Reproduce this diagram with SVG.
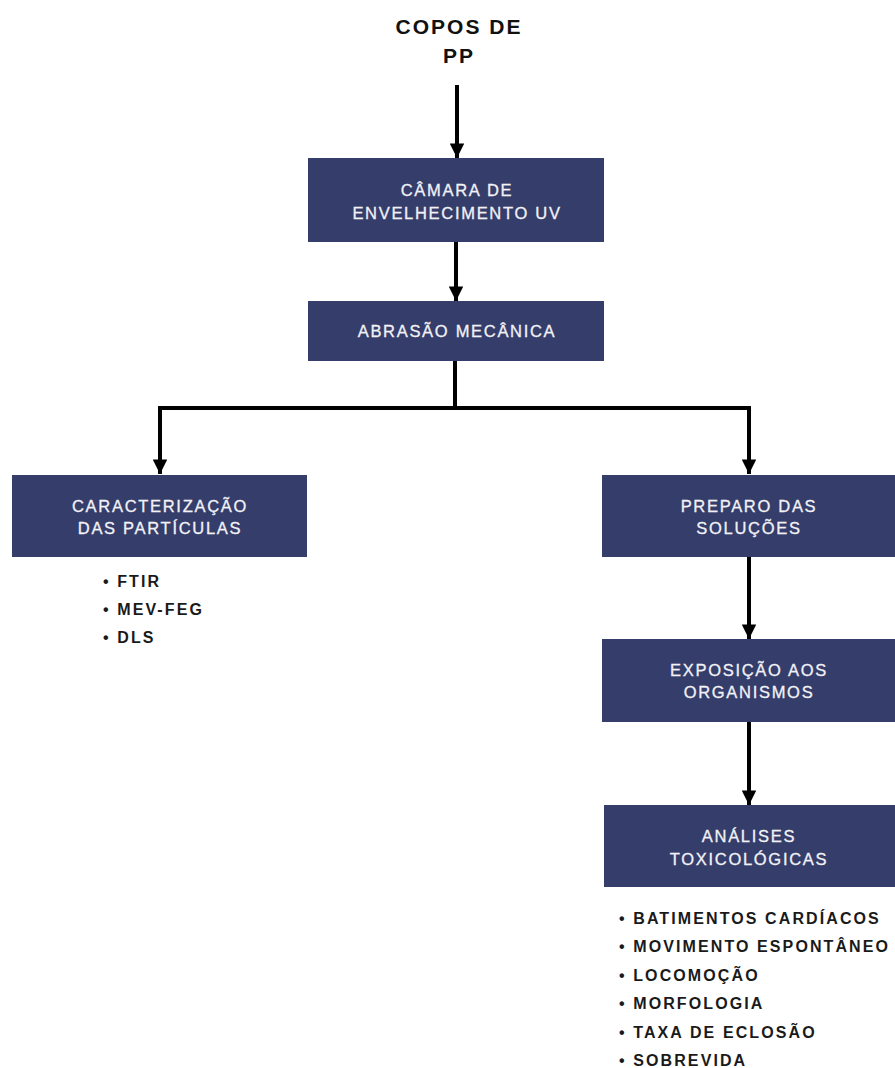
<svg xmlns="http://www.w3.org/2000/svg" width="895" height="1068" viewBox="0 0 895 1068">
  <defs>
    <marker id="arrow" viewBox="0 0 10 10" refX="10" refY="5" markerWidth="4.5" markerHeight="3.6" markerUnits="strokeWidth" orient="auto">
      <path d="M0,0 L10,5 L0,10 Z" fill="#000"/>
    </marker>
    <style>
      .box { fill: #353d6b; }
      .lbl { font-family: "Liberation Sans", Arial, sans-serif; font-size: 16.5px; fill: #f2f2f6; stroke: #f2f2f6; stroke-width: 0.3px; letter-spacing: 1.7px; text-anchor: middle; }
      .title { font-family: "Liberation Sans", Arial, sans-serif; font-size: 21px; font-weight: bold; fill: #111; letter-spacing: 2px; text-anchor: middle; }
      .item { font-family: "Liberation Sans", Arial, sans-serif; font-size: 16px; font-weight: bold; fill: #1a1a1a; letter-spacing: 2.1px; }
      .link { fill: none; stroke: #000; stroke-width: 4; marker-end: url(#arrow); }
    </style>
  </defs>
  <rect width="895" height="1068" fill="#fff"/>

  <g id="connectors">
    <path class="link" d="M457,85 V158"/>
    <path class="link" d="M456,242 V301"/>
    <path class="link" d="M455,361 V408 H160 V474"/>
    <path class="link" d="M455,408 H749 V474"/>
    <path class="link" d="M749,557 V639"/>
    <path class="link" d="M749,722 V805"/>
  </g>

  <g id="copos">
    <text class="title" x="459" y="34">COPOS DE</text>
    <text class="title" x="459" y="63">PP</text>
  </g>

  <g id="camara">
    <rect class="box" x="308" y="158" width="296" height="84"/>
    <text class="lbl" x="457" y="196">CÂMARA DE</text>
    <text class="lbl" x="457" y="219">ENVELHECIMENTO UV</text>
  </g>

  <g id="abrasao">
    <rect class="box" x="308" y="301" width="296" height="60"/>
    <text class="lbl" x="457" y="337">ABRASÃO MECÂNICA</text>
  </g>

  <g id="caracterizacao">
    <rect class="box" x="12" y="475" width="295" height="82"/>
    <text class="lbl" x="160" y="512">CARACTERIZAÇÃO</text>
    <text class="lbl" x="160" y="534">DAS PARTÍCULAS</text>
    <text class="item" x="103" y="587">•  FTIR</text>
    <text class="item" x="103" y="615">•  MEV-FEG</text>
    <text class="item" x="103" y="643">•  DLS</text>
  </g>

  <g id="preparo">
    <rect class="box" x="602" y="475" width="293" height="82"/>
    <text class="lbl" x="749" y="512">PREPARO DAS</text>
    <text class="lbl" x="749" y="534">SOLUÇÕES</text>
  </g>

  <g id="exposicao">
    <rect class="box" x="602" y="639" width="293" height="83"/>
    <text class="lbl" x="749" y="676">EXPOSIÇÃO AOS</text>
    <text class="lbl" x="749" y="698">ORGANISMOS</text>
  </g>

  <g id="analises">
    <rect class="box" x="604" y="805" width="291" height="82"/>
    <text class="lbl" x="749" y="842">ANÁLISES</text>
    <text class="lbl" x="749" y="865">TOXICOLÓGICAS</text>
    <text class="item" x="619" y="924">•  BATIMENTOS CARDÍACOS</text>
    <text class="item" x="619" y="952">•  MOVIMENTO ESPONTÂNEO</text>
    <text class="item" x="619" y="981">•  LOCOMOÇÃO</text>
    <text class="item" x="619" y="1009">•  MORFOLOGIA</text>
    <text class="item" x="619" y="1038">•  TAXA DE ECLOSÃO</text>
    <text class="item" x="619" y="1066">•  SOBREVIDA</text>
  </g>
</svg>
